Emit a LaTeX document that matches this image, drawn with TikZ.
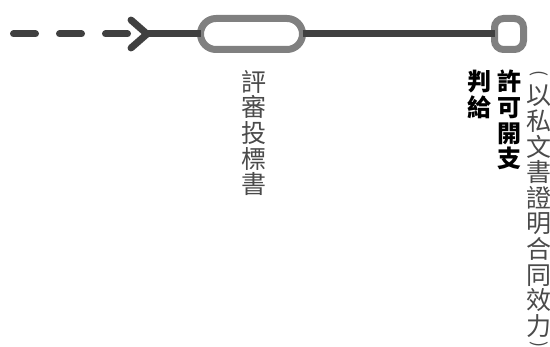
\documentclass[tikz,border=0pt]{standalone}
\usepackage{fontspec}
\usepackage{graphicx}
\newfontfamily\cjk{Noto Sans CJK TC}
\usetikzlibrary{calc}
\definecolor{linedark}{HTML}{404040}
\definecolor{boxgray}{HTML}{808080}
\definecolor{txtgray}{HTML}{4a4a4a}
\tikzset{
  mainline/.style={draw=linedark, line width=7pt, line cap=round},
  dashline/.style={mainline, dash pattern=on 22pt off 24pt},
  chev/.style={mainline, line join=round},
  stadium/.style={draw=boxgray, line width=7pt, rounded corners=15.5pt, minimum width=102pt, minimum height=31pt, inner sep=0pt, outer sep=0pt},
  smallbox/.style={draw=boxgray, line width=7pt, rounded corners=9pt, minimum width=29pt, minimum height=31pt, inner sep=0pt, outer sep=0pt},
  vtext/.style={font=\cjk\fontsize{25}{25.6}\selectfont, align=center, inner sep=0pt, anchor=north},
  vlight/.style={vtext, text=txtgray},
  vbold/.style={vtext, font=\cjk\bfseries\fontsize{24}{25.6}\selectfont, text=black},
  vparen/.style={font=\cjk\fontsize{18}{18}\selectfont, text=txtgray, inner sep=0pt, anchor=center}
}
\begin{document}
\begin{tikzpicture}[x=1pt, y=-1pt]
\useasboundingbox (0,0) rectangle (550,347);
\coordinate (start) at (13.5,34);
\coordinate (dashend) at (128,34);
\coordinate (tip) at (147,34);
\node[stadium] (a) at (251.5,34) {};
\node[smallbox] (b) at (509,34) {};
\draw[dashline] (start) -- (dashend);
\draw[chev] ([shift={(-16,-14)}]tip) -- (tip) -- ([shift={(-16,14)}]tip);
\draw[mainline, line cap=butt] (tip) -- (a.west);
\draw[mainline, line cap=butt] (a.east) -- (b.west);
\node[vlight] (t1) at (254,70) {評\\審\\投\\標\\書};
\node[vbold] (t2) at (479,70) {判\\給};
\node[vbold] (t3) at (509,70) {許\\可\\開\\支};
\node[vparen] (p1) at (539,74) {\rotatebox{-90}{(}};
\node[vlight] (t4) at (539,85) {以\\私\\文\\書\\證\\明\\合\\同\\效\\力};
\node[vparen] (p2) at (539,345) {\rotatebox{-90}{)}};
\end{tikzpicture}
\end{document}
